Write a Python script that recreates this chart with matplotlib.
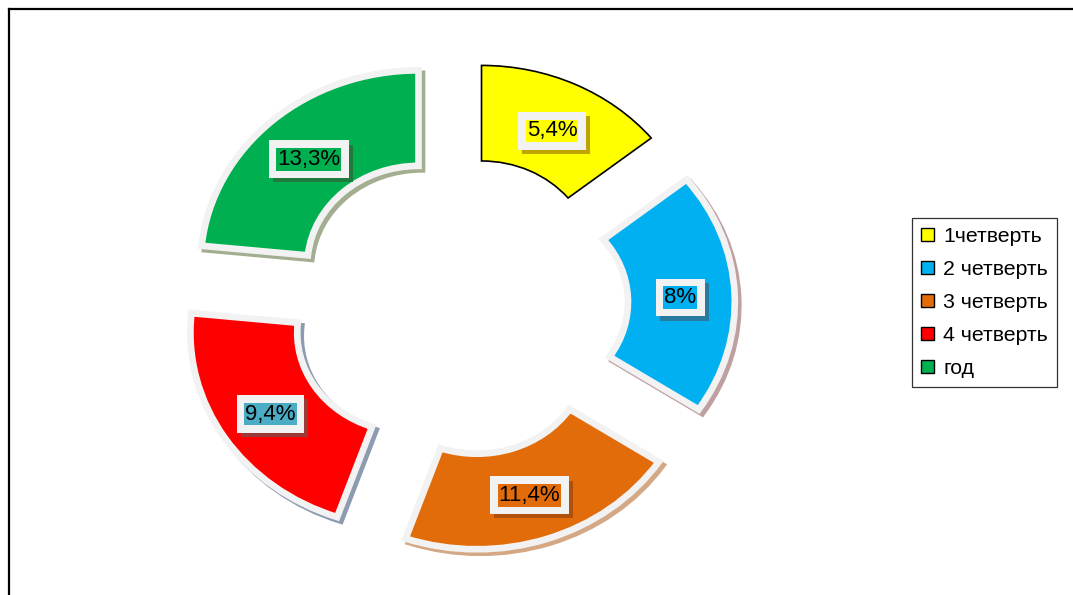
import matplotlib
matplotlib.use("Agg")
import matplotlib.pyplot as plt
import matplotlib.patheffects as pe
from matplotlib.patches import Patch
from matplotlib.lines import Line2D

plt.rcParams['font.family'] = ['Liberation Sans', 'DejaVu Sans']

# ---- data ----
categories = ["1четверть", "2 четверть", "3 четверть", "4 четверть", "год"]
slice_shares = [14.2, 20.1, 21.0, 21.3, 23.4]          # angular share of each ring segment
value_labels = ["5,4%", "8%", "11,4%", "9,4%", "13,3%"]  # data label text

# ---- styles ----
colors = ["#ffff00", "#00b0f0", "#e36c0a", "#ff0000", "#00b050"]
label_bg = ["#ffff00", "#00b0f0", "#e36c0a", "#4bacc6", "#00b050"]
label_shadow = ["#bfa400", "#2a7aa0", "#b0500a", "#9c3a3a", "#1f7a3e"]
wedge_shadow = [None, "#bfa0a0", "#d4a884", "#8c9bb0", "#a3ad8f"]
explode = [0.25, 0.27, 0.27, 0.27, 0.27]

W, H = 1073, 595
fig = plt.figure(figsize=(W / 100, H / 100), dpi=100)
ax = fig.add_axes([0, 0, 1, 1])

cx_px, cy_px = 458.0, 304.4   # ring centre (pixels from top-left)
rx_px, ry_px = 218.0, 195.0   # pixels per unit radius in x and y

wedges, texts = ax.pie(
    slice_shares, explode=explode, colors=colors, startangle=90,
    counterclock=False, radius=1.0, labels=value_labels, labeldistance=0.75,
    wedgeprops=dict(width=0.49, edgecolor="#f2f2f2", linewidth=4.8),
)
ax.set_aspect('auto')
ax.set_xlim(-cx_px / rx_px, (W - cx_px) / rx_px)
ax.set_ylim(-(H - cy_px) / ry_px, cy_px / ry_px)
ax.axis('off')

for i, w in enumerate(wedges):
    if wedge_shadow[i] is None:
        w.set_edgecolor("black")
        w.set_linewidth(1.2)
    else:
        w.set_path_effects([
            pe.Stroke(linewidth=4.8, foreground=wedge_shadow[i], offset=(2.5, -2.5)),
            pe.Normal(),
        ])

for i, t in enumerate(texts):
    x, y = t.get_position()
    t.set_visible(False)
    # outer light box with shadow
    outer = ax.text(x, y, value_labels[i], fontsize=16, ha='center', va='center_baseline',
                    color=(0, 0, 0, 0), zorder=5,
                    bbox=dict(boxstyle='square,pad=0.38', fc="#f2f2f2", ec='none'))
    outer.get_bbox_patch().set_path_effects([
        pe.SimplePatchShadow(offset=(3, -3), shadow_rgbFace=label_shadow[i], alpha=1.0),
        pe.Normal(),
    ])
    ax.text(x, y, value_labels[i], fontsize=16, ha='center', va='center_baseline',
            color='black', zorder=6,
            bbox=dict(boxstyle='square,pad=0.04', fc=label_bg[i], ec='none'))

# legend
handles = [Patch(facecolor=c, edgecolor='black', linewidth=1.0) for c in colors]
leg = fig.legend(handles, categories, loc='upper left',
                 bbox_to_anchor=(912 / W, 1 - 218 / H), fontsize=15.3,
                 frameon=True, fancybox=False, handlelength=0.6, handleheight=0.6,
                 handletextpad=0.45, labelspacing=0.66, borderpad=0.42,
                 borderaxespad=0)
leg.get_frame().set_edgecolor('black')
leg.get_frame().set_linewidth(0.9)

# chart frame (top and left edges visible)
fig.add_artist(Line2D([8.5 / W, 1.0], [1 - 8.5 / H, 1 - 8.5 / H],
                      transform=fig.transFigure, color='black', linewidth=1.6))
fig.add_artist(Line2D([8.5 / W, 8.5 / W], [0.0, 1 - 8.5 / H],
                      transform=fig.transFigure, color='black', linewidth=1.6))

fig.savefig("out.png", dpi=100)
